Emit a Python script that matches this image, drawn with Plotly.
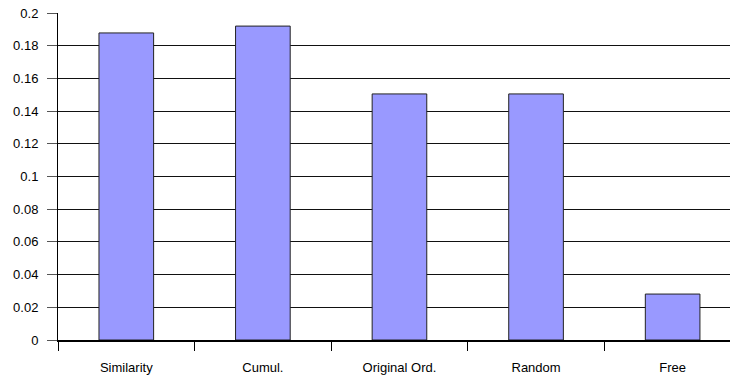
import plotly.graph_objects as go

# Scores per ordering strategy
categories = ["Similarity", "Cumul.", "Original Ord.", "Random", "Free"]
values = [0.1878, 0.192, 0.1505, 0.1505, 0.0281]
y_ticks = [0, 0.02, 0.04, 0.06, 0.08, 0.1, 0.12, 0.14, 0.16, 0.18, 0.2]
y_tick_labels = ["0", "0.02", "0.04", "0.06", "0.08", "0.1", "0.12", "0.14", "0.16", "0.18", "0.2"]

fig = go.Figure(
    go.Bar(
        x=categories,
        y=values,
        width=0.4,
        marker=dict(color="#9999FF", line=dict(color="#222222", width=1)),
    )
)

font = dict(family="Liberation Sans, Arial, sans-serif", size=13, color="#000000")

fig.update_layout(
    width=730,
    height=377,
    margin=dict(l=58, r=0, t=13, b=37),
    paper_bgcolor="white",
    plot_bgcolor="white",
    font=font,
    showlegend=False,
    bargap=0.6,
)

fig.update_xaxes(
    type="category",
    range=[-0.5, 4.42],
    tickson="boundaries",
    ticks="outside",
    ticklen=9,
    tickcolor="#000000",
    tickwidth=1,
    showgrid=False,
    showline=True,
    linecolor="#000000",
    linewidth=2,
    ticklabelstandoff=14,
)

fig.update_yaxes(
    range=[0, 0.2],
    tickvals=y_ticks,
    ticktext=y_tick_labels,
    ticks="outside",
    ticklen=10,
    tickcolor="#555555",
    showgrid=True,
    gridcolor="#111111",
    gridwidth=1,
    zeroline=False,
    showline=True,
    linecolor="#000000",
    linewidth=1,
    ticklabelstandoff=6,
)

fig.write_html("out.html")
